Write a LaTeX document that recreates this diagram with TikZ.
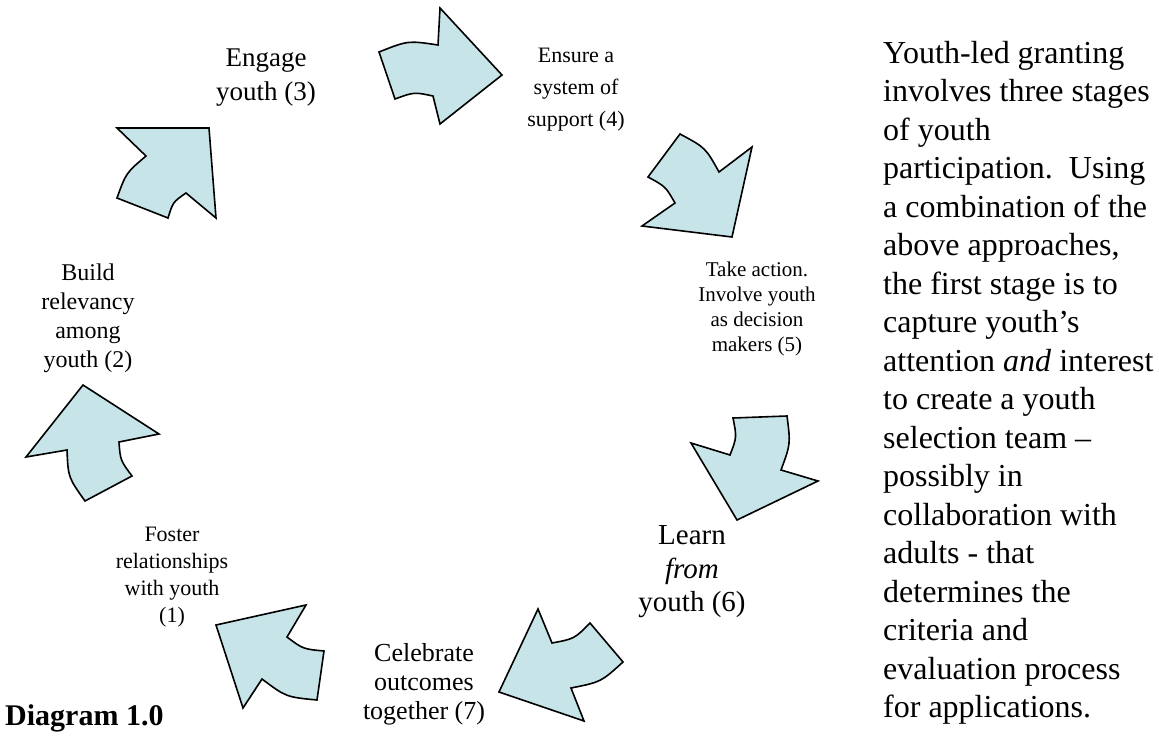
\documentclass[tikz,border=0pt]{standalone}
\usepackage{fontspec}
\setmainfont{Liberation Serif}
\usetikzlibrary{calc}
\definecolor{arrowfill}{RGB}{199,228,232}
\tikzset{
  cyclearrow/.style={draw=black, line width=1.6pt, fill=arrowfill, line join=miter},
  lbl/.style={align=center, inner sep=0pt, text=black}
}
\begin{document}
\begin{tikzpicture}[x=1pt,y=-1pt]
\useasboundingbox (0,0) rectangle (1159,736);
% Arrow A (build -> engage)
\coordinate (a1) at (117,128); \coordinate (a2) at (209,128); \coordinate (a3) at (216,218);
\coordinate (a4) at (186,193); \coordinate (a5) at (168,218); \coordinate (a6) at (117,198); \coordinate (a7) at (146,156);
\draw[cyclearrow] (a1) -- (a2) -- (a3) -- (a4) .. controls (173,202) .. (a5) -- (a6) .. controls (126,173) .. (a7) -- cycle;
% Arrow B
\coordinate (b1) at (379,52); \coordinate (b2) at (438,45); \coordinate (b3) at (440,8); \coordinate (b4) at (502,75);
\coordinate (b5) at (440,124); \coordinate (b6) at (433,96); \coordinate (b7) at (395,99);
\draw[cyclearrow] (b1) .. controls (408,40.5) .. (b2) -- (b3) -- (b4) -- (b5) -- (b6) .. controls (414,92) .. (b7) -- cycle;
% Arrow C
\coordinate (c1) at (680,134); \coordinate (c2) at (719,172); \coordinate (c3) at (752,147); \coordinate (c4) at (732,237);
\coordinate (c5) at (642,226); \coordinate (c6) at (675,203); \coordinate (c7) at (648,177);
\draw[cyclearrow] (c1) .. controls (705.5,147.7) .. (c2) -- (c3) -- (c4) -- (c5) -- (c6) .. controls (665.5,186.5) .. (c7) -- cycle;
% Arrow D
\coordinate (d1) at (733,418); \coordinate (d2) at (787,416); \coordinate (d3) at (781,470); \coordinate (d4) at (818,481);
\coordinate (d5) at (737,520); \coordinate (d6) at (691,443); \coordinate (d7) at (730,455);
\draw[cyclearrow] (d1) -- (d2) .. controls (790.6,444) .. (d3) -- (d4) -- (d5) -- (d6) -- (d7) .. controls (736.8,437.3) .. cycle;
% Arrow E
\coordinate (e1) at (538,609); \coordinate (e2) at (552,643); \coordinate (e3) at (590,623); \coordinate (e4) at (623,662);
\coordinate (e5) at (571,688); \coordinate (e6) at (584,721); \coordinate (e7) at (499,692);
\draw[cyclearrow] (e1) -- (e2) .. controls (574.4,638.8) .. (e3) -- (e4) .. controls (601,682) .. (e5) -- (e6) -- (e7) -- cycle;
% Arrow F
\coordinate (f1) at (216,625); \coordinate (f2) at (306,605); \coordinate (f3) at (287,637); \coordinate (f4) at (324,651);
\coordinate (f5) at (317,700); \coordinate (f6) at (262,679); \coordinate (f7) at (243,708);
\draw[cyclearrow] (f1) -- (f2) -- (f3) .. controls (303,649) .. (f4) -- (f5) .. controls (286,697) .. (f6) -- (f7) -- cycle;
% Arrow G
\coordinate (g1) at (83,385); \coordinate (g2) at (159,434); \coordinate (g3) at (119,442); \coordinate (g4) at (132,476);
\coordinate (g5) at (85,501); \coordinate (g6) at (67,450); \coordinate (g7) at (26,457);
\draw[cyclearrow] (g1) -- (g2) -- (g3) .. controls (120.3,460.2) .. (g4) -- (g5) .. controls (68.2,477.4) .. (g6) -- (g7) -- cycle;
% Labels
\node[lbl, font=\fontsize{27}{34}\selectfont] (t3) at (266,78) {Engage\\youth (3)};
\node[lbl, font=\fontsize{22}{32}\selectfont] (t4) at (576,90) {Ensure a\\system of\\support (4)};
\node[lbl, font=\fontsize{21}{25}\selectfont] (t5) at (757,309) {Take action.\\Involve youth\\as decision\\makers (5)};
\node[lbl, font=\fontsize{29}{33.5}\selectfont] (t6) at (692,572) {Learn\\\textit{from}\\youth (6)};
\node[lbl, font=\fontsize{26}{29}\selectfont] (t7) at (424,684) {Celebrate\\outcomes\\together (7)};
\node[lbl, font=\fontsize{22}{27}\selectfont] (t1) at (172,577) {Foster\\relationships\\with youth\\(1)};
\node[lbl, font=\fontsize{24}{29}\selectfont] (t2) at (88,318) {Build\\relevancy\\among\\youth (2)};
\node[inner sep=0pt, anchor=base west, font=\fontsize{30}{32}\selectfont\bfseries] (dg) at (5,725) {Diagram 1.0};
\node[inner sep=0pt, anchor=north west, align=left, font=\fontsize{32}{38.5}\selectfont] (body) at (883,41) {Youth-led granting\\involves three stages\\of youth\\participation.\ \ Using\\a combination of the\\above approaches,\\the first stage is to\\capture youth’s\\attention \textit{and} interest\\to create a youth\\selection team –\\possibly in\\collaboration with\\adults - that\\determines the\\criteria and\\evaluation process\\for applications.};
\end{tikzpicture}
\end{document}
